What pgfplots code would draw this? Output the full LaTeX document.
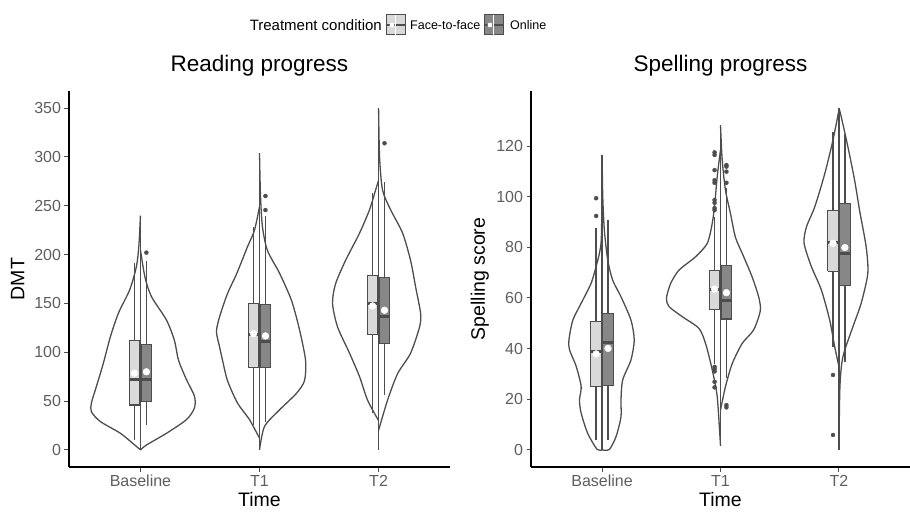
\documentclass[border=0pt]{standalone}
\usepackage{pgfplots}
\pgfplotsset{compat=1.18}
\usepackage{fontspec}
\setmainfont{Liberation Sans}
\definecolor{g30}{HTML}{4D4D4D}
\definecolor{tk}{HTML}{5E5E5E}
\definecolor{lightbox}{HTML}{D9D9D9}
\definecolor{darkbox}{HTML}{878787}

\pgfplotsset{
  panel/.style={
    scale only axis, height=376pt, anchor=south west,
    xmin=0.4, xmax=3.6, xtick={1,2,3}, xticklabels={Baseline,T1,T2},
    axis x line*=bottom, axis y line*=left,
    axis line style={line width=1.5pt, black, -},
    tick style={g30, line width=1pt}, major tick length=4.5pt, tick align=outside,
    ticklabel style={font=\fontsize{16}{16}\selectfont, text=tk},
    /pgf/number format/assume math mode=true,
    xlabel=Time,
    xlabel style={font=\fontsize{19.5}{19.5}\selectfont, inner sep=0pt, at={(axis description cs:0.5,0)}, anchor=center, yshift=-33pt},
    ylabel style={font=\fontsize{19.5}{19.5}\selectfont, at={(axis description cs:-0.135,0.5)}, anchor=center},
    title style={font=\fontsize{22.5}{22.5}\selectfont, at={(axis description cs:0.5,1)}, anchor=center, yshift=19pt},
    clip=false,
  },
  vl/.style={g30, line width=1.3pt, smooth, tension=0.45, mark=none},
  cl/.style={g30, line width=1.3pt, mark=none},
  mn/.style={only marks, mark=*, mark size=3.4pt, color=white},
  ol/.style={only marks, mark=*, mark size=2pt, color=g30},
}
% half violins: y value and half-width in pixels (1 unit = 119 px)
\newcommand\vL[2]{\addplot[vl] table[row sep=\\, x expr={#1-\thisrow{w}/119}, y=y]{y w\\ #2};}
\newcommand\vR[2]{\addplot[vl] table[row sep=\\, x expr={#1+\thisrow{w}/119}, y=y]{y w\\ #2};}
% box: x-left, x-right, x-centre, lower whisker, q1, median, q3, upper whisker, fill
\newcommand\bx[9]{%
  \addplot[cl] coordinates {(#3,#4) (#3,#8)};
  \addplot[draw=g30, line width=1.1pt, fill=#9, mark=none] coordinates {(#1,#5) (#2,#5) (#2,#7) (#1,#7) (#1,#5)};
  \addplot[g30, line width=3pt, mark=none] coordinates {(#1,#6) (#2,#6)};
}

\begin{document}
\begin{tikzpicture}
\path[use as bounding box] (0pt,0pt) rectangle (910pt,512pt);

% ---------- legend ----------
\node[anchor=east, inner sep=0pt, font=\fontsize{15}{15}\selectfont] at (382pt,487pt) {Treatment condition};
\draw[g30, line width=1pt, fill=lightbox] (386pt,477pt) rectangle (405pt,497pt);
\draw[g30, line width=1.8pt] (386pt,487pt) -- (405pt,487pt);
\draw[white, line width=0.9pt] (395.5pt,477pt) -- (395.5pt,497pt);
\fill[white] (392pt,487pt) circle (2.4pt);
\node[anchor=west, inner sep=0pt, font=\fontsize{12.5}{12.5}\selectfont] at (410pt,487pt) {Face-to-face};
\draw[g30, line width=1pt, fill=darkbox] (484pt,477pt) rectangle (503pt,497pt);
\draw[g30, line width=1.8pt] (484pt,487pt) -- (503pt,487pt);
\draw[white, line width=0.9pt] (493.5pt,477pt) -- (493.5pt,497pt);
\fill[white] (490pt,487pt) circle (2.4pt);
\node[anchor=west, inner sep=0pt, font=\fontsize{12.5}{12.5}\selectfont] at (510pt,487pt) {Online};

% ---------- Reading progress ----------
\begin{axis}[panel, at={(69pt,45pt)}, width=381pt,
  ymin=-17.5, ymax=367.5, ytick={0,50,...,350},
  ylabel=DMT, title=Reading progress]
\vL{1}{0 0\\ 5 5.7\\ 17 20\\ 29 40\\ 39 49\\ 48 49\\ 65 44\\ 89 37\\ 116 30\\ 140 22\\ 164 10.7\\ 188 4\\ 210 1.5\\ 240 0\\}
\vR{1}{0 0\\ 5 6\\ 17 26\\ 31 46\\ 43 54\\ 55 54\\ 72 46\\ 92 38\\ 112 34\\ 133 26\\ 157 11\\ 177 4.5\\ 205 0\\}
\addplot[cl] coordinates {(1,0) (1,240)};
\vL{2}{12 0\\ 31 10\\ 48 22\\ 71 32\\ 92 37\\ 106 40\\ 121 43\\ 136 40\\ 160 32\\ 180 23\\ 208 12\\ 225 5\\ 249 0\\}
\vR{2}{0 0\\ 24 5\\ 41 20\\ 58 37\\ 71 45\\ 92 46\\ 123 40\\ 153 32\\ 181 20\\ 204 8\\ 228 3\\ 260 1\\ 304 0\\}
\addplot[cl] coordinates {(2,0) (2,304)};
\vL{3}{30 0\\ 51 11\\ 75 19\\ 99 29\\ 126 41\\ 150 46\\ 170 43\\ 194 33\\ 222 19\\ 246 9\\ 266 3\\ 276 0\\}
\vR{3}{20 0\\ 51 9\\ 78 19\\ 99 32\\ 126 41\\ 140 42\\ 167 37\\ 194 32\\ 222 24\\ 246 12\\ 266 4\\ 300 1\\ 350 0\\}
\addplot[cl] coordinates {(3,0) (3,350)};
\bx{0.905}{0.995}{0.95}{10}{46}{72.6}{111.6}{191.7}{lightbox}
\bx{1.005}{1.095}{1.05}{25.6}{50}{72.6}{107.5}{193.3}{darkbox}
\bx{1.905}{1.995}{1.95}{25.6}{84}{118}{150}{228}{lightbox}
\bx{2.005}{2.095}{2.05}{29}{84}{111}{148.7}{239.5}{darkbox}
\bx{2.905}{2.995}{2.95}{37.5}{118.4}{150}{178.4}{262.7}{lightbox}
\bx{3.005}{3.095}{3.05}{56}{109}{137}{176.7}{274.6}{darkbox}
\addplot[mn] coordinates {(0.95,78.5) (1.05,80) (1.95,119) (2.05,116.7) (2.95,147.4) (3.05,143)};
\addplot[ol] coordinates {(1.05,202) (2.05,245.6) (2.05,260) (3.05,314)};
\end{axis}

% ---------- Spelling progress ----------
\begin{axis}[panel, at={(531pt,45pt)}, width=379pt,
  ymin=-6.75, ymax=141.75, ytick={0,20,...,120},
  ylabel=Spelling score, title=Spelling progress]
\vL{1}{0 0\\ 0.2 5\\ 6.5 14.4\\ 14.5 21\\ 19.7 22.7\\ 25 21\\ 33 26\\ 39.5 32.7\\ 43.4 33.3\\ 51.3 29.3\\ 59.2 19.3\\ 65.8 11\\ 72.4 6\\ 77.6 2.7\\ 83 0.8\\ 100 0\\}
\vR{1}{0 0\\ 0.2 7.3\\ 5.2 14\\ 13 19\\ 19.7 19\\ 27.6 20.7\\ 35.5 29\\ 43.4 32.3\\ 51.3 29\\ 60.5 19\\ 67 10.7\\ 75 5.7\\ 86.8 2.3\\ 100 0.7\\ 116.5 0\\}
\addplot[cl] coordinates {(1,0) (1,116.5)};
\vL{2}{1.5 0\\ 21 3.3\\ 31.6 8.3\\ 42 15\\ 48 21.7\\ 52.6 38.3\\ 56.6 51.7\\ 60 54.3\\ 65.8 50\\ 71 41.7\\ 76.3 25\\ 81.6 13.3\\ 89.5 8.3\\ 97.4 5.7\\ 108 3.3\\ 118.5 0\\}
\vR{2}{15.8 0\\ 25 5\\ 34 11.7\\ 42 21.7\\ 47.4 33.3\\ 55 40\\ 60.5 38.3\\ 68.4 31.7\\ 76.3 23.3\\ 84 15\\ 93.4 10\\ 102.6 5\\ 114.5 1.7\\ 128.3 0\\}
\addplot[cl] coordinates {(2,1.5) (2,128.3)};
\vL{3}{32.9 0\\ 40.8 4.3\\ 51.3 9.3\\ 63.2 17.7\\ 72.4 27.7\\ 81.6 35\\ 88 32.7\\ 96 24.3\\ 109 14.3\\ 122.4 6\\ 134.2 0\\}
\vR{3}{0 0\\ 25 1\\ 36.8 4\\ 48.6 14\\ 57.9 22.3\\ 69.7 29\\ 80.3 27.3\\ 94.7 20.7\\ 106.6 15.7\\ 119.7 9\\ 131.6 2.3\\ 135 0\\}
\addplot[cl] coordinates {(3,0) (3,135)};
\bx{0.905}{0.995}{0.95}{4}{25}{38.8}{50.6}{87.5}{lightbox}
\bx{1.005}{1.095}{1.05}{4}{25.4}{42.4}{53.8}{90.8}{darkbox}
\bx{1.905}{1.995}{1.95}{34}{55.6}{63.2}{70.8}{92}{lightbox}
\bx{2.005}{2.095}{2.05}{28.3}{51.7}{59}{73}{103.3}{darkbox}
\bx{2.905}{2.995}{2.95}{40.8}{70.6}{81.8}{94.7}{125.4}{lightbox}
\bx{3.005}{3.095}{3.05}{34.8}{64.9}{77.4}{97.4}{124.8}{darkbox}
\addplot[mn] coordinates {(0.95,37.9) (1.05,40.1) (1.95,63.5) (2.05,62.1) (2.95,81.6) (3.05,79.9)};
\addplot[ol] coordinates {(0.95,99.4) (0.95,92.4)
  (1.95,94.7) (1.95,95.5) (1.95,97.6) (1.95,98.7) (1.95,105.5) (1.95,106.5) (1.95,110.5) (1.95,116.5) (1.95,117.5)
  (1.95,32.8) (1.95,32) (1.95,31) (1.95,26.9) (1.95,24.7)
  (2.05,105.5) (2.05,109.9) (2.05,111.9) (2.05,112.5) (2.05,17.7) (2.05,16.8)
  (2.95,29.6) (2.95,5.9)};
\end{axis}
\end{tikzpicture}
\end{document}
